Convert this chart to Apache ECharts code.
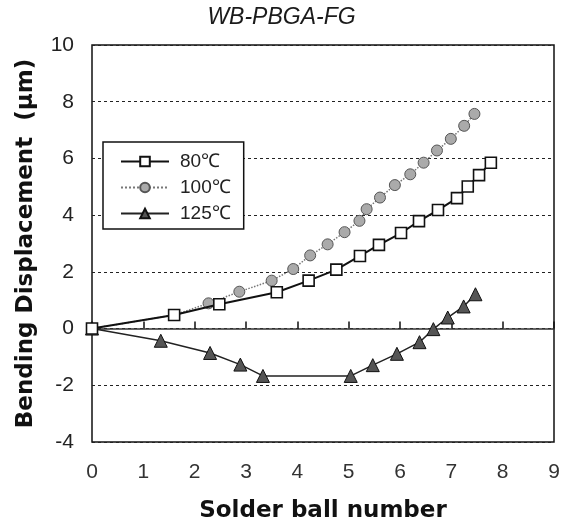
<!DOCTYPE html>
<html>
<head>
<meta charset="utf-8">
<script src="https://cdn.jsdelivr.net/npm/echarts@6/dist/echarts.min.js"></script>
<style>
  html, body { margin: 0; padding: 0; background: #fff; }
  #chart { width: 563px; height: 528px; }
</style>
</head>
<body>
<div id="chart"></div>
<script>
  // values (x = solder ball number, y = displacement in um)
  const seriesNames = ['80\u2103', '100\u2103', '125\u2103'];

  const x80 = [0, 1.60, 2.48, 3.60, 4.22, 4.76, 5.22, 5.59, 6.02, 6.37, 6.74, 7.11, 7.32, 7.54, 7.77];
  const y80 = [0, 0.48, 0.86, 1.28, 1.69, 2.08, 2.56, 2.95, 3.37, 3.79, 4.18, 4.60, 5.01, 5.41, 5.85];

  const x100 = [0, 1.60, 2.27, 2.87, 3.50, 3.92, 4.25, 4.59, 4.92, 5.21, 5.35, 5.61, 5.90, 6.20, 6.46, 6.72, 6.99, 7.25, 7.45];
  const y100 = [0, 0.48, 0.89, 1.30, 1.69, 2.10, 2.58, 2.97, 3.40, 3.80, 4.21, 4.62, 5.06, 5.44, 5.85, 6.28, 6.69, 7.15, 7.57];

  const x125 = [0, 1.34, 2.30, 2.89, 3.33, 5.04, 5.47, 5.94, 6.38, 6.65, 6.93, 7.24, 7.47];
  const y125 = [0, -0.43, -0.86, -1.27, -1.67, -1.67, -1.29, -0.89, -0.48, -0.02, 0.39, 0.78, 1.21];

  function pairs(xs, ys) {
    return xs.map((x, i) => [x, ys[i]]);
  }

  const chart = echarts.init(document.getElementById('chart'), null, { renderer: 'canvas' });

  chart.setOption({
    backgroundColor: '#fff',
    animation: false,
    title: {
      text: 'WB-PBGA-FG',
      left: 'center',
      top: 1,
      textStyle: {
        fontFamily: 'Liberation Sans',
        fontStyle: 'italic',
        fontWeight: 'normal',
        fontSize: 23,
        color: '#1a1a1a'
      }
    },
    // plot box drawn by the grid border
    grid: {
      left: 92,
      right: 9,
      top: 45,
      bottom: 83,
      show: true,
      borderColor: '#111',
      borderWidth: 1.5,
      backgroundColor: 'transparent'
    },
    legend: {
      orient: 'vertical',
      left: 103,
      top: 142,
      data: seriesNames,
      itemWidth: 48,
      itemHeight: 12,
      itemGap: 7,
      padding: [10, 13, 6, 17],
      borderColor: '#111',
      borderWidth: 1.5,
      backgroundColor: '#fff',
      textStyle: {
        fontFamily: 'Liberation Sans',
        fontSize: 19,
        color: '#222',
        padding: [0, 0, 0, 6]
      }
    },
    xAxis: [
      {
        type: 'value',
        min: 0,
        max: 9,
        interval: 1,
        name: 'Solder ball number',
        nameLocation: 'middle',
        nameGap: 58,
        nameTextStyle: {
          fontFamily: 'DejaVu Sans',
          fontWeight: 'bold',
          fontSize: 23,
          color: '#111'
        },
        axisLine: { show: false, onZero: false },
        axisTick: { show: false },
        splitLine: { show: false },
        axisLabel: {
          margin: 20,
          fontFamily: 'Liberation Sans',
          fontSize: 21,
          color: '#333'
        }
      },
      {
        // the zero line with its small ticks pointing up
        type: 'value',
        position: 'top',
        min: 0,
        max: 9,
        interval: 1,
        axisLine: { show: true, onZero: true, lineStyle: { color: '#333', width: 1.5 } },
        axisTick: { show: true, inside: false, length: 7, lineStyle: { color: '#111', width: 1.5 } },
        axisLabel: { show: false },
        splitLine: { show: false }
      }
    ],
    yAxis: {
      type: 'value',
      min: -4,
      max: 10,
      interval: 2,
      name: 'Bending Displacement  (\u03bcm)',
      nameLocation: 'middle',
      nameGap: 54,
      nameTextStyle: {
        fontFamily: 'DejaVu Sans',
        fontWeight: 'bold',
        fontSize: 23,
        color: '#111'
      },
      axisLine: { show: false },
      axisTick: { show: false },
      axisLabel: {
        margin: 18,
        fontFamily: 'Liberation Sans',
        fontSize: 21,
        color: '#222'
      },
      splitLine: {
        show: true,
        lineStyle: { color: '#222', type: [3, 3], width: 1 }
      }
    },
    series: [
      {
        name: seriesNames[0],
        type: 'line',
        xAxisIndex: 0,
        data: pairs(x80, y80),
        z: 4,
        symbol: 'rect',
        symbolSize: 11,
        lineStyle: { color: '#111', width: 2 },
        itemStyle: { color: '#fff', borderColor: '#111', borderWidth: 1.6 }
      },
      {
        name: seriesNames[1],
        type: 'line',
        xAxisIndex: 0,
        data: pairs(x100, y100),
        z: 3,
        symbol: 'circle',
        symbolSize: 11,
        lineStyle: { color: '#777', width: 1.5, type: 'dotted' },
        itemStyle: { color: '#aaa', borderColor: '#555', borderWidth: 1 }
      },
      {
        // same 0..9 scale, bound to the zero-line axis so that axis is drawn
        name: seriesNames[2],
        type: 'line',
        xAxisIndex: 1,
        data: pairs(x125, y125),
        z: 3,
        symbol: 'triangle',
        symbolSize: 13,
        lineStyle: { color: '#222', width: 1.5 },
        itemStyle: { color: '#555', borderColor: '#111', borderWidth: 1 }
      }
    ]
  });
</script>
</body>
</html>
